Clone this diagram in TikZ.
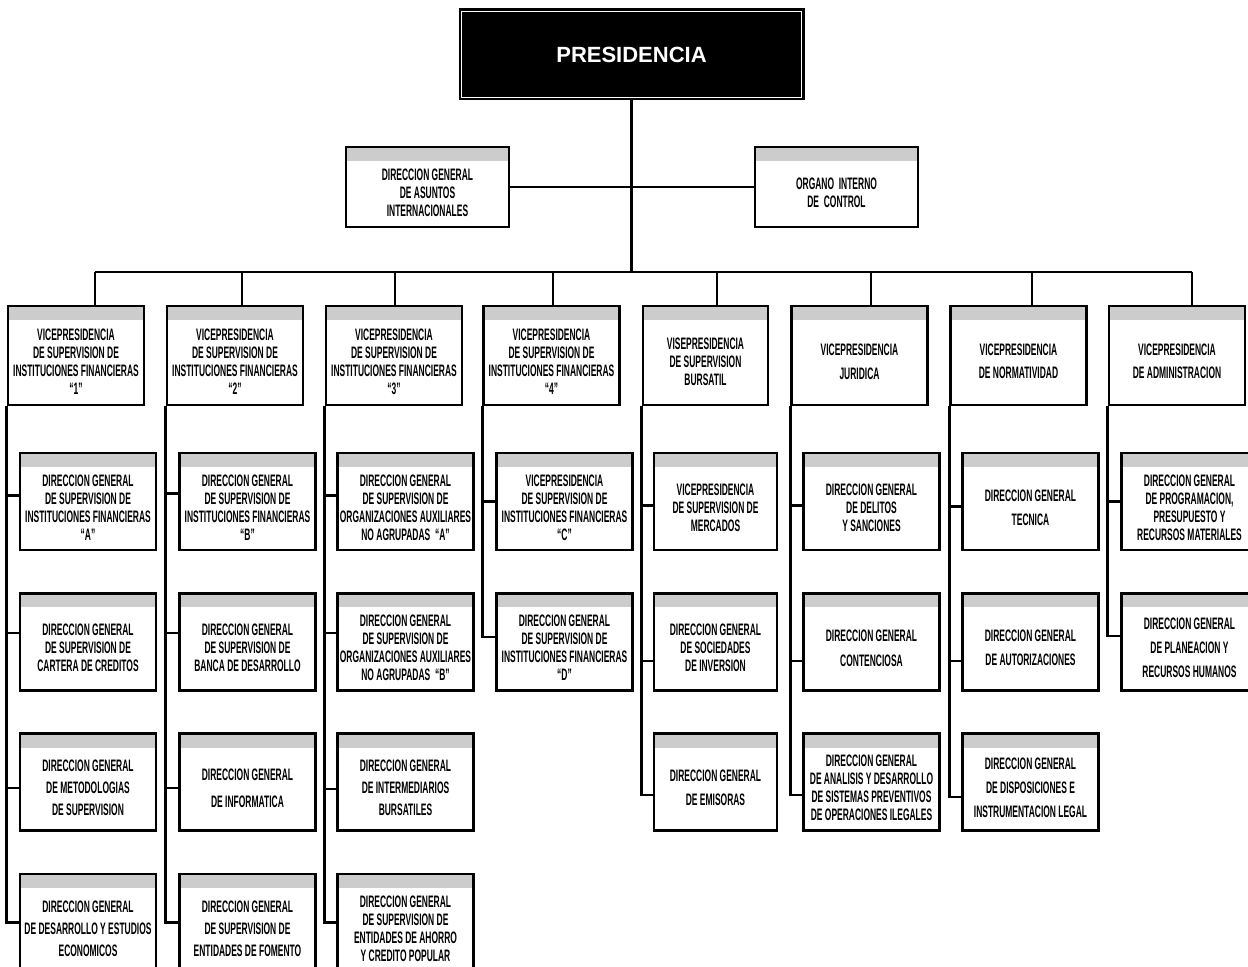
\documentclass[tikz,border=0pt]{standalone}
\usepackage{fontspec}
\newfontfamily\orgfont[FakeStretch=0.51]{Liberation Sans}
\newfontfamily\presfont{Liberation Sans}
\definecolor{bandgray}{HTML}{CCCCCC}
\begin{document}
\begin{tikzpicture}[x=0.5pt,y=-0.5pt,
	unit/.style={draw,line width=1.2pt,fill=white,inner sep=0pt,minimum width=68pt,minimum height=48.5pt,
		path picture={\fill[bandgray] (path picture bounding box.north west) rectangle ([yshift=-7pt]path picture bounding box.north east);}},
	vp/.style={unit,minimum height=49.5pt},
	staff/.style={unit,minimum width=81.5pt,minimum height=40pt},
	txt/.style={font=\orgfont\bfseries\fontsize{8.3}{9}\selectfont,align=center,inner sep=0pt,yshift=-3pt},
	link/.style={line width=1.4pt}]
	\clip (0,0) rectangle (1248,967);

	% draw presidencia
	\node (pres) at (631.5,54.5) [draw,fill=black,line width=1.2pt,double=white,double distance=0.6pt,minimum width=170pt,minimum height=43pt,text=white,font=\presfont\bfseries\fontsize{11}{13}\selectfont] {PRESIDENCIA};

	% draw staff boxes
	\node (asuntos) at (427.5,187) [staff,label={[txt]center:{DIRECCION GENERAL\\DE ASUNTOS\\INTERNACIONALES}}] {};
	\node (organo) at (836.5,187) [staff,label={[txt]center:{ORGANO~~INTERNO\\DE~~CONTROL}}] {};

	% draw vicepresidencias
	\node (v1) at (76,355.5) [vp,label={[txt]center:{VICEPRESIDENCIA\\DE SUPERVISION DE\\INSTITUCIONES FINANCIERAS\\“1”}}] {};
	\node (v2) at (235,355.5) [vp,label={[txt]center:{VICEPRESIDENCIA\\DE SUPERVISION DE\\INSTITUCIONES FINANCIERAS\\“2”}}] {};
	\node (v3) at (394,355.5) [vp,label={[txt]center:{VICEPRESIDENCIA\\DE SUPERVISION DE\\INSTITUCIONES FINANCIERAS\\“3”}}] {};
	\node (v4) at (551.5,355.5) [vp,label={[txt]center:{VICEPRESIDENCIA\\DE SUPERVISION DE\\INSTITUCIONES FINANCIERAS\\“4”}}] {};
	\node (v5) at (705.5,355.5) [vp,minimum width=62.5pt,label={[txt]center:{VISEPRESIDENCIA\\DE SUPERVISION\\BURSATIL}}] {};
	\node (v6) at (859.5,355.5) [vp,label={[txt]center:{VICEPRESIDENCIA\\[3pt]JURIDICA}}] {};
	\node (v7) at (1018.5,355.5) [vp,label={[txt]center:{VICEPRESIDENCIA\\[2.5pt]DE NORMATIVIDAD}}] {};
	\node (v8) at (1177,355.5) [vp,label={[txt]center:{VICEPRESIDENCIA\\[2.5pt]DE ADMINISTRACION}}] {};

	% draw direcciones generales, column by column
	\node (c11) at (88,501.5) [unit,label={[txt]center:{DIRECCION GENERAL\\DE SUPERVISION DE\\INSTITUCIONES FINANCIERAS\\“A”}}] {};
	\node (c12) at (88,642) [unit,label={[txt]center:{DIRECCION GENERAL\\DE SUPERVISION DE\\CARTERA DE CREDITOS}}] {};
	\node (c13) at (88,782) [unit,label={[txt]center:{DIRECCION GENERAL\\[2pt]DE METODOLOGIAS\\[2pt]DE SUPERVISION}}] {};
	\node (c14) at (88,922.5) [unit,label={[txt]center:{DIRECCION GENERAL\\[2pt]DE DESARROLLO Y ESTUDIOS\\[2pt]ECONOMICOS}}] {};

	\node (c21) at (247.5,501.5) [unit,label={[txt]center:{DIRECCION GENERAL\\DE SUPERVISION DE\\INSTITUCIONES FINANCIERAS\\“B”}}] {};
	\node (c22) at (247.5,642) [unit,label={[txt]center:{DIRECCION GENERAL\\DE SUPERVISION DE\\BANCA DE DESARROLLO}}] {};
	\node (c23) at (247.5,782) [unit,label={[txt]center:{DIRECCION GENERAL\\[4.5pt]DE INFORMATICA}}] {};
	\node (c24) at (247.5,922.5) [unit,label={[txt]center:{DIRECCION GENERAL\\[2pt]DE SUPERVISION DE\\[2pt]ENTIDADES DE FOMENTO}}] {};

	\node (c31) at (405.5,501.5) [unit,label={[txt]center:{DIRECCION GENERAL\\DE SUPERVISION DE\\ORGANIZACIONES AUXILIARES\\NO AGRUPADAS~~“A”}}] {};
	\node (c32) at (405.5,642) [unit,label={[txt]center:{DIRECCION GENERAL\\DE SUPERVISION DE\\ORGANIZACIONES AUXILIARES\\NO AGRUPADAS~~“B”}}] {};
	\node (c33) at (405.5,782) [unit,label={[txt]center:{DIRECCION GENERAL\\[2pt]DE INTERMEDIARIOS\\[2pt]BURSATILES}}] {};
	\node (c34) at (405.5,922.5) [unit,label={[txt]center:{DIRECCION GENERAL\\DE SUPERVISION DE\\ENTIDADES DE AHORRO\\Y CREDITO POPULAR}}] {};

	\node (c41) at (564.5,501.5) [unit,label={[txt]center:{VICEPRESIDENCIA\\DE SUPERVISION DE\\INSTITUCIONES FINANCIERAS\\“C”}}] {};
	\node (c42) at (564.5,642) [unit,label={[txt]center:{DIRECCION GENERAL\\DE SUPERVISION DE\\INSTITUCIONES FINANCIERAS\\“D”}}] {};

	\node (c51) at (715.5,501.5) [unit,minimum width=61.5pt,label={[txt]center:{VICEPRESIDENCIA\\DE SUPERVISION DE\\MERCADOS}}] {};
	\node (c52) at (715.5,642) [unit,minimum width=61.5pt,label={[txt]center:{DIRECCION GENERAL\\DE SOCIEDADES\\DE INVERSION}}] {};
	\node (c53) at (715.5,782) [unit,minimum width=61.5pt,label={[txt]center:{DIRECCION GENERAL\\[3pt]DE EMISORAS}}] {};

	\node (c61) at (871.5,501.5) [unit,label={[txt]center:{DIRECCION GENERAL\\DE DELITOS\\Y SANCIONES}}] {};
	\node (c62) at (871.5,642) [unit,label={[txt]center:{DIRECCION GENERAL\\[3.5pt]CONTENCIOSA}}] {};
	\node (c63) at (871.5,782) [unit,label={[txt]center:{DIRECCION GENERAL\\DE ANALISIS Y DESARROLLO\\DE SISTEMAS PREVENTIVOS\\DE OPERACIONES ILEGALES}}] {};

	\node (c71) at (1030.5,501.5) [unit,label={[txt]center:{DIRECCION GENERAL\\[3pt]TECNICA}}] {};
	\node (c72) at (1030.5,642) [unit,label={[txt]center:{DIRECCION GENERAL\\[3pt]DE AUTORIZACIONES}}] {};
	\node (c73) at (1030.5,782) [unit,label={[txt]center:{DIRECCION GENERAL\\[3pt]DE DISPOSICIONES E\\[3pt]INSTRUMENTACION LEGAL}}] {};

	\node (c81) at (1189.5,501.5) [unit,label={[txt]center:{DIRECCION GENERAL\\DE PROGRAMACION,\\PRESUPUESTO Y\\RECURSOS MATERIALES}}] {};
	\node (c82) at (1189.5,642) [unit,label={[txt]center:{DIRECCION GENERAL\\[3pt]DE PLANEACION Y\\[3pt]RECURSOS HUMANOS}}] {};

	% draw trunk from presidencia and line to the staff boxes
	\coordinate (d1) at (95,272);
	\coordinate (d2) at (242,272);
	\coordinate (d3) at (395,272);
	\coordinate (d4) at (553,272);
	\coordinate (d5) at (717,272);
	\coordinate (d6) at (871,272);
	\coordinate (d7) at (1032,272);
	\coordinate (d8) at (1192,272);
	\draw[link] (pres.south) -- (pres.south |- d1);
	\draw[link] (asuntos.east) -- (organo.west);

	% draw bus and drops to the vicepresidencias
	\draw[link] (d1) -- (d8);
	\foreach \i in {1,...,8}
	{
		\draw[link] (d\i) -- (d\i |- v\i.north);
	}

	% draw lines from each vicepresidencia to its direcciones
	\foreach \c/\v/\s in {c11/v1/-3,c12/v1/-4.5,c13/v1/3,c14/v1/0,
		c21/v2/-4,c22/v2/-4.5,c23/v2/3,c24/v2/0,
		c31/v3/-3,c32/v3/-4.5,c33/v3/3.5,c34/v3/0,
		c41/v4/0,c42/v4/-2.5,
		c51/v5/2,c52/v5/9.5,c53/v5/6.5,
		c61/v6/2,c62/v6/9.5,c63/v6/6.5,
		c71/v7/2.5,c72/v7/9.5,c73/v7/7.5,
		c81/v8/0,c82/v8/-3}
	{
		\draw[link] (\v.south west) |- ([yshift=-\s pt]\c.west);
	}
\end{tikzpicture}
\end{document}
